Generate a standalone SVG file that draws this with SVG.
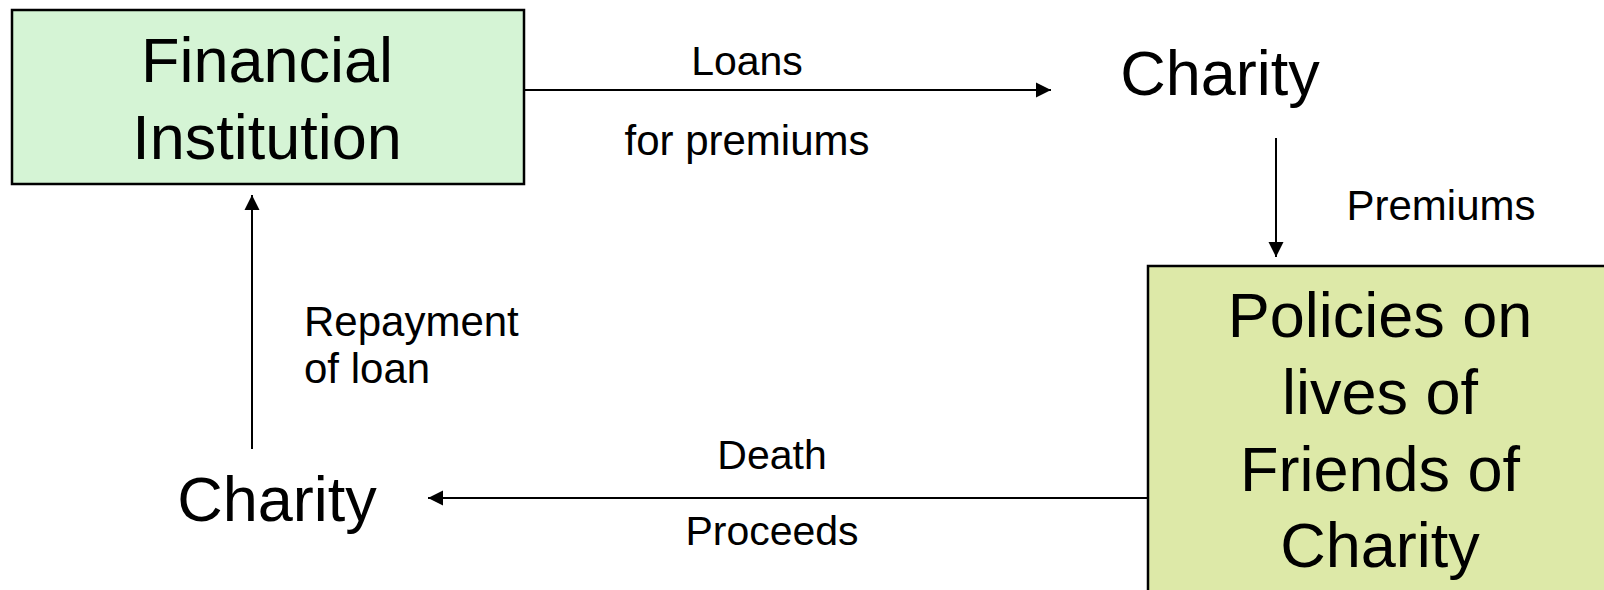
<svg xmlns="http://www.w3.org/2000/svg" width="1604" height="590" viewBox="0 0 1604 590">
<style>
.big{font-family:"Liberation Sans",Arial,sans-serif;font-size:63px;fill:#000;text-anchor:middle}
.lbl{font-family:"Liberation Sans",Arial,sans-serif;font-size:41px;fill:#000;text-anchor:middle}
.box{stroke:#000;stroke-width:2.5}
.conn{stroke:#000;stroke-width:2;fill:none}
</style>
<defs>
<marker id="ah" markerUnits="userSpaceOnUse" markerWidth="16" markerHeight="16" viewBox="0 0 16 16" refX="15" refY="8" orient="auto">
<path d="M0,0.5 L15,8 L0,15.5 Z" fill="#000"/>
</marker>
</defs>
<rect width="1604" height="590" fill="#fff"/>
<g id="connectors">
<line class="conn" x1="524" y1="90" x2="1051" y2="90" marker-end="url(#ah)"/>
<line class="conn" x1="1276" y1="138" x2="1276" y2="257" marker-end="url(#ah)"/>
<line class="conn" x1="1148" y1="498" x2="428" y2="498" marker-end="url(#ah)"/>
<line class="conn" x1="252" y1="449" x2="252" y2="195" marker-end="url(#ah)"/>
<text class="lbl" x="747" y="75">Loans</text>
<text class="lbl" x="747" y="155" style="font-size:42px">for premiums</text>
<text class="lbl" x="1441" y="220" style="font-size:42px">Premiums</text>
<text class="lbl" x="772" y="469">Death</text>
<text class="lbl" x="772" y="545">Proceeds</text>
<text class="lbl" x="304" y="336" style="text-anchor:start;font-size:42px">Repayment</text>
<text class="lbl" x="304" y="383" style="text-anchor:start;font-size:42px">of loan</text>
</g>
<g id="financial-institution">
<rect class="box" x="12" y="10" width="512" height="174" fill="#d5f4d5"/>
<text class="big" x="267" y="82">Financial</text>
<text class="big" x="267" y="159">Institution</text>
</g>
<g id="charity-top">
<text class="big" x="1220" y="95">Charity</text>
</g>
<g id="policies">
<rect class="box" x="1148" y="266" width="500" height="400" fill="#dde9a8"/>
<text class="big" x="1380" y="337">Policies on</text>
<text class="big" x="1380" y="414">lives of</text>
<text class="big" x="1380" y="491">Friends of</text>
<text class="big" x="1380" y="567">Charity</text>
</g>
<g id="charity-bottom">
<text class="big" x="277" y="521">Charity</text>
</g>
</svg>
